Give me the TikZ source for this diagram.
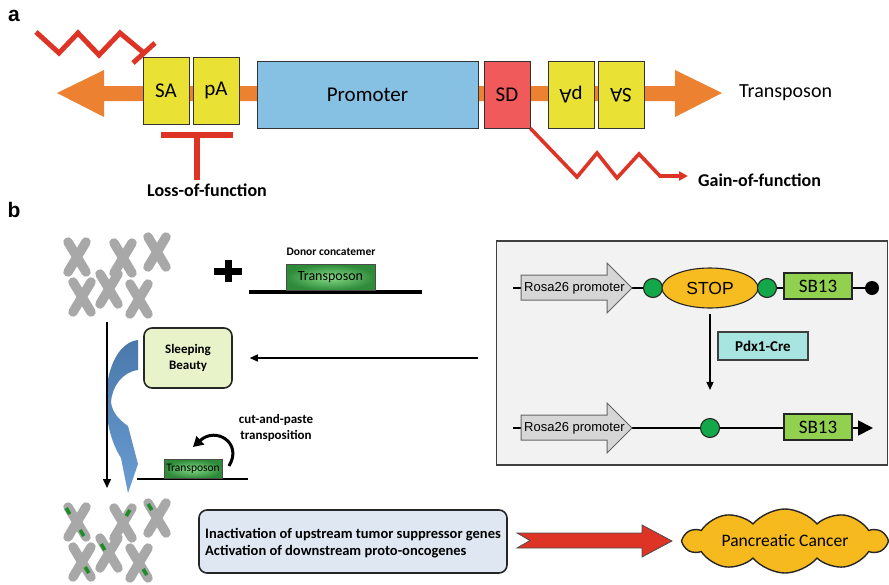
\documentclass[tikz,border=0pt]{standalone}
\usepackage{fontspec}
\setmainfont{Carlito}
\newfontfamily\arialfont{Liberation Sans}
\usetikzlibrary{shapes.symbols,shapes.geometric,arrows.meta,calc}

\definecolor{orangeA}{HTML}{ED8132}
\definecolor{yellowA}{HTML}{E9E234}
\definecolor{promBlue}{HTML}{86C1E4}
\definecolor{sdRed}{HTML}{F05A5A}
\definecolor{lineRed}{HTML}{DE3426}
\definecolor{loxGreen}{HTML}{12A84A}
\definecolor{stopGold}{HTML}{F7BC1F}
\definecolor{sbGreen}{HTML}{92D050}
\definecolor{creCyan}{HTML}{A8E4E0}
\definecolor{panelGray}{HTML}{F2F2F2}
\definecolor{rosaGray}{HTML}{D6D6D6}
\definecolor{chromGray}{HTML}{A8A8A8}
\definecolor{markGreen}{HTML}{1E8C28}
\definecolor{sbBox}{HTML}{E8F3C9}
\definecolor{geneBox}{HTML}{DEE7F2}
\definecolor{cloudGold}{HTML}{F7BA1E}
\definecolor{tnDark}{HTML}{2E8B3A}
\definecolor{tnLight}{HTML}{86DA86}
\definecolor{curveDark}{HTML}{4A78AA}
\definecolor{curveLight}{HTML}{6A9DD3}

\newcommand\fs[2]{\fontsize{#1}{#2}\selectfont}

\begin{document}
\begin{tikzpicture}[x=1pt,y=-1pt,
  elem/.style={draw=black!80,line width=0.9pt,minimum width=46pt,minimum height=67pt,inner sep=0pt,font=\fs{21}{24}},
  redline/.style={draw=lineRed,line width=5pt},
  label/.style={font=\bfseries\fs{18}{21}},
  thinarrow/.style={draw=black,line width=1.4pt,-{Triangle[length=8pt,width=7pt]}},
  lox/.style={circle,draw=black!85,line width=1.1pt,fill=loxGreen,minimum size=19pt,inner sep=0pt},
  sbgene/.style={draw=black!85,line width=1.1pt,fill=sbGreen,minimum width=68pt,minimum height=26pt,inner sep=0pt,font=\fs{19}{22}},
  rosa/.style={draw=black!60,line width=1pt,fill=rosaGray},
  rosatext/.style={font=\arialfont\fs{13}{15},inner sep=0pt,anchor=west},
  xchrom/.pic={\draw[chromGray,line width=9.5pt,line cap=round] (-9,-15) -- (9,15) (9,-15) -- (-9,15);},
  gmark/.style={draw=markGreen,line width=3.6pt},
  tnbox/.style={draw=black!70,line width=0.8pt,inner color=tnLight,outer color=tnDark,inner sep=0pt}
]
\useasboundingbox (0,0) rectangle (889,584);

% ---------------- panel a: transposon structure ----------------
\node[font=\arialfont\bfseries\fs{21}{24}] (la) at (14,16) {a};

% orange two-headed backbone
\fill[orangeA] (57,93) -- (104,70) -- (104,86) -- (675,86) -- (675,70) -- (722,93)
  -- (675,117) -- (675,101) -- (104,101) -- (104,117) -- cycle;

\node[elem,fill=yellowA] (sa1) at (166,90.5) {SA};
\node[elem,fill=yellowA] (pa1) at (216,90.5) {pA};
\node[elem,fill=promBlue,minimum width=221pt] (prom) at (367.5,94.5) {Promoter};
\node[elem,fill=sdRed] (sd) at (507,94.5) {SD};
\node[elem,fill=yellowA,rotate=180] (pa2) at (571,95) {pA};
\node[elem,fill=yellowA,rotate=180] (sa2) at (621,95) {SA};
\node[font=\fs{20}{24},anchor=west,inner sep=0pt] (tlab) at (739,93) {Transposon};

% trapped upstream transcript
\coordinate (ztop) at (144,53);
\draw[redline,line join=miter] (36,32) -- (59,53) -- (78,33) -- (99,55) -- (120,33) -- (ztop);
\draw[redline] ($(ztop)+(-11,10)$) -- ($(ztop)+(11,-10)$);

% loss-of-function bar
\node[label] (lof) at (207,190) {Loss-of-function};
\coordinate (tbar) at (197,135);
\draw[draw=lineRed,line width=6pt] (161,135) -- (233,135);
\draw[draw=lineRed,line width=6pt] (tbar) -- (tbar |- lof.north);

% gain-of-function read-through
\node[label,anchor=west,inner sep=0pt] (gof) at (698,180) {Gain-of-function};
\draw[draw=lineRed,line width=3.6pt,line join=miter,-{Triangle[length=9pt,width=9pt]}]
  (sd.south east) -- (577,177) -- (597,153) -- (617,178) -- (639,154) -- (660,176)
  -- ($(gof.west)+(-10,-4)$);

% ---------------- panel b ----------------
\node[font=\arialfont\bfseries\fs{21}{24}] (lb) at (14,210) {b};

% chromosomes before insertion
\pic at (77,257) {xchrom};
\pic at (123,258) {xchrom};
\pic at (157,252) {xchrom};
\pic at (82,297) {xchrom};
\pic at (109,289) {xchrom};
\pic at (139,299) {xchrom};

% plus sign
\draw[line width=7pt] (214,271) -- (242,271) (228,260) -- (228,282);

% donor concatemer
\draw[line width=4pt] (249,292) coordinate (dl) -- (422,292) coordinate (dr);
\node[tnbox,minimum width=89pt,minimum height=26pt,font=\fs{14}{16}] (tp1) at (330.5,277.5) {Transposon};
\node[font=\bfseries\fs{11.5}{13}] (donor) at (331,252) {Donor concatemer};

% right panel: conditional SB13 allele
\node[draw=black!75,line width=1.6pt,fill=panelGray,minimum width=391pt,minimum height=224pt,inner sep=0pt] (cbox) at (692,353) {};

% top allele
\coordinate (r1s) at (513,288);
\node[circle,fill=black,minimum size=14pt,inner sep=0pt] (end1) at (872,288) {};
\draw[line width=1.8pt] (r1s) -- (end1);
\filldraw[rosa] (521,275) -- (607,275) -- (607,263) -- (632,288) -- (607,313) -- (607,300) -- (521,300) -- cycle;
\node[rosatext] (rosa1) at (524,288) {Rosa26 promoter};
\node[lox] (l1) at (653,288) {};
\node[ellipse,draw=black!85,line width=1.1pt,fill=stopGold,minimum width=96pt,minimum height=40pt,inner sep=0pt,font=\arialfont\fs{17.5}{20}] (stop) at (710,288) {STOP};
\node[lox] (l2) at (767,288) {};
\node[sbgene] (sb1) at (818,286) {SB13};

% bottom allele
\coordinate (r2s) at (513,428);
\coordinate (tip2) at (873,428);
\draw[line width=1.8pt,-{Triangle[length=15pt,width=15pt]}] (r2s) -- (tip2);
\filldraw[rosa] (521,415) -- (607,415) -- (607,403) -- (632,428) -- (607,453) -- (607,440) -- (521,440) -- cycle;
\node[rosatext] (rosa2) at (524,428) {Rosa26 promoter};
\node[lox] (l3) at (710,428) {};
\node[sbgene] (sb2) at (818,427) {SB13};

% Cre excision
\draw[thinarrow] (stop.south) ++(0,5) -- ($(l3.north)+(0,-28)$);
\node[draw=black!75,line width=1.1pt,fill=creCyan,minimum width=90pt,minimum height=28pt,inner sep=0pt,font=\bfseries\fs{15}{17}] (cre) at (763,346) {Pdx1-Cre};

% Sleeping Beauty transposase
\node[draw=black!85,line width=1.6pt,fill=sbBox,rounded corners=8pt,minimum width=88pt,minimum height=60pt,align=center,inner sep=0pt,font=\bfseries\fs{13}{16}] (sb) at (188,358) {Sleeping\\Beauty};
\coordinate (sbsrc) at (478,358);
\draw[thinarrow] (sbsrc) -- ($(sb.east)+(17,0)$);

% curved mobilisation arrow
\shade[top color=curveDark,bottom color=curveLight]
  (138,340) -- (138,370) .. controls (122,372) and (112,387) .. (111,402)
  .. controls (112,412) and (119,420) .. (128,426) -- (138,464) -- (128,493)
  -- (121,458) .. controls (111,442) and (106,422) .. (106,398)
  .. controls (107,365) and (120,342) .. (138,340) -- cycle;

% vertical progression arrow
\coordinate (vtop) at (107,322);
\coordinate (vbot) at (107,488);
\draw[line width=1.5pt,-{Triangle[length=9pt,width=8pt]}] (vtop) -- (vbot);

% cut-and-paste
\draw[line width=2pt] (137,479) coordinate (cl) -- (248,479) coordinate (cr);
\node[tnbox,minimum width=58pt,minimum height=19pt,font=\fs{11.5}{13}] (tp2) at (193,469) {Transposon};
\node[font=\bfseries\fs{13}{15.5},align=center] (cap) at (276,428) {cut-and-paste\\transposition};
\draw[line width=3pt,-{Triangle[length=10pt,width=11pt]}] (229,466) .. controls (243,443) and (216,426) .. (193,447);

% chromosomes after insertion
\pic at (77,522) {xchrom};
\pic at (123,523) {xchrom};
\pic at (157,518) {xchrom};
\pic at (82,562) {xchrom};
\pic at (109,553) {xchrom};
\pic at (139,563) {xchrom};
\draw[gmark] (68,511) +(-1.8,-3) -- +(1.8,3);
\draw[gmark] (82,533) +(-1.8,-3) -- +(1.8,3);
\draw[gmark] (128,513) +(1.8,-3) -- +(-1.8,3);
\draw[gmark] (150,507) +(-1.8,-3) -- +(1.8,3);
\draw[gmark] (87,570) +(-1.8,-3) -- +(1.8,3);
\draw[gmark] (103,547) +(-1.8,-3) -- +(1.8,3);
\draw[gmark] (145,572) +(-1.8,-3) -- +(1.8,3);

% consequences
\node[draw=black!85,line width=1.6pt,fill=geneBox,rounded corners=8pt,minimum width=308pt,minimum height=63pt,inner sep=0pt] (genes) at (353,541.5) {};
\node[anchor=west,align=left,font=\bfseries\fs{14.5}{17},inner sep=0pt] (genestext) at (205,543) {Inactivation of upstream tumor suppressor genes\\Activation of downstream proto-oncogenes};

\filldraw[fill=lineRed,draw=black!70,line width=0.8pt]
  (517,533) -- (642,533) -- (642,525) -- (672,541) -- (642,557) -- (642,548)
  -- (517,548) -- (530,540.5) -- cycle;

\node[cloud,cloud ignores aspect,cloud puffs=10,cloud puff arc=100,draw=black!85,line width=1.4pt,fill=cloudGold,minimum width=202pt,minimum height=64pt,inner sep=0pt,font=\fs{17.5}{20}] (cancer) at (785,541) {Pancreatic Cancer};
\end{tikzpicture}
\end{document}
